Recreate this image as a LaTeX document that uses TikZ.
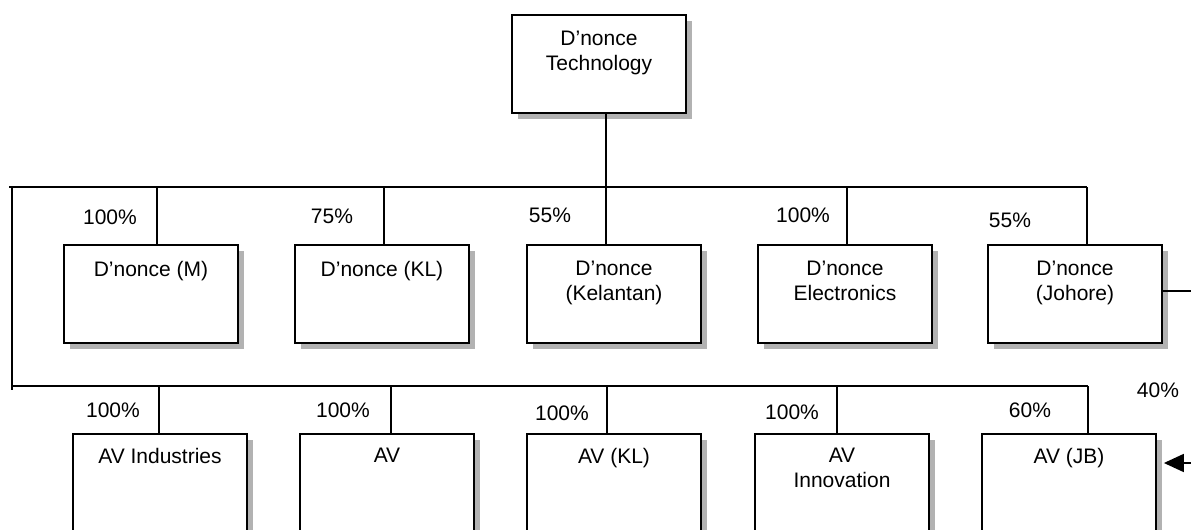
\documentclass[tikz,border=0pt]{standalone}
\usepackage{fontspec}
\setmainfont{Liberation Sans}
\usetikzlibrary{arrows.meta}
\usetikzlibrary{shadows}

\begin{document}
\begin{tikzpicture}[x=0.5pt, y=-0.5pt, line width=0.9pt,
    font=\fontsize{10.5}{12.5}\selectfont,
    box/.style = {draw, fill=white, anchor=north, minimum width=87pt, minimum height=49pt,
        drop shadow={shadow xshift=3pt, shadow yshift=-3pt, fill=black!30, opacity=1}},
    avbox/.style = {box, minimum height=60pt},
    txt/.style = {anchor=north, yshift=-8pt, align=center, inner sep=0pt},
    pct/.style = {inner sep=0pt}]
    \useasboundingbox (0,0) rectangle (1191,530);
    \clip (0,0) rectangle (1191,530);

    % holding company
    \node [box, label={[txt]north:D’nonce\\Technology}] (dt) at (599, 14) {};

    % D'nonce companies
    \node [box, label={[txt]north:D’nonce (M)}] (dm) at (151, 244) {};
    \node [box, label={[txt]north:D’nonce (KL)}] (dkl) at (382, 244) {};
    \node [box, label={[txt]north:D’nonce\\(Kelantan)}] (dkn) at (614, 244) {};
    \node [box, label={[txt]north:D’nonce\\Electronics}] (de) at (845, 244) {};
    \node [box, label={[txt]north:D’nonce\\(Johore)}] (dj) at (1075, 244) {};

    % AV companies
    \node [avbox, label={[txt, yshift=1pt]north:AV Industries}] (ai) at (160, 433) {};
    \node [avbox, label={[txt, yshift=1pt]north:AV}] (av) at (387, 433) {};
    \node [avbox, label={[txt, yshift=1pt]north:AV (KL)}] (akl) at (614, 433) {};
    \node [avbox, label={[txt, yshift=1pt]north:AV\\Innovation}] (ain) at (842, 433) {};
    \node [avbox, label={[txt, yshift=1pt]north:AV (JB)}] (ajb) at (1069, 433) {};

    % bars
    \coordinate (tl) at (9, 187);
    \coordinate (tr) at (1087, 187);
    \coordinate (vl) at (12, 187);
    \coordinate (bl) at (12, 386);
    \coordinate (br) at (1088, 386);
    \draw (tl) -- (tr);
    \draw (vl) -- ([yshift=-2pt]bl);
    \draw (bl) -- (br);

    % stems on the upper bar
    \coordinate (s0) at (606, 187);
    \coordinate (s1) at (157, 187);
    \coordinate (s2) at (384, 187);
    \coordinate (s4) at (847, 187);
    \draw (dt.south -| s0) -- (s0);
    \draw (s0) -- (s0 |- dkn.north);
    \draw (s1) -- (s1 |- dm.north);
    \draw (s2) -- (s2 |- dkl.north);
    \draw (s4) -- (s4 |- de.north);
    \draw (tr) -- (tr |- dj.north);

    % stems on the lower bar
    \coordinate (t1) at (159, 386);
    \coordinate (t2) at (391, 386);
    \coordinate (t3) at (607, 386);
    \coordinate (t4) at (837, 386);
    \draw (t1) -- (t1 |- ai.north);
    \draw (t2) -- (t2 |- av.north);
    \draw (t3) -- (t3 |- akl.north);
    \draw (t4) -- (t4 |- ain.north);
    \draw (br) -- (br |- ajb.north);

    % right side
    \coordinate (jr) at (1191, 291);
    \coordinate (ar) at (1191, 463);
    \draw (jr) -- (jr -| dj.east);
    \draw [-{Triangle[length=10pt, width=9pt]}] (ar) -- ([xshift=3.5pt]ar -| ajb.east);

    % shares
    \node [pct] (p1) at (110, 217) {100\%};
    \node [pct] (p2) at (332, 216) {75\%};
    \node [pct] (p3) at (550, 215) {55\%};
    \node [pct] (p4) at (803, 215) {100\%};
    \node [pct] (p5) at (1010, 220) {55\%};
    \node [pct] (q1) at (113, 410) {100\%};
    \node [pct] (q2) at (343, 410) {100\%};
    \node [pct] (q3) at (562, 413) {100\%};
    \node [pct] (q4) at (792, 412) {100\%};
    \node [pct] (q5) at (1030, 410) {60\%};
    \node [pct] (q6) at (1158, 390) {40\%};

\end{tikzpicture}
\end{document}
